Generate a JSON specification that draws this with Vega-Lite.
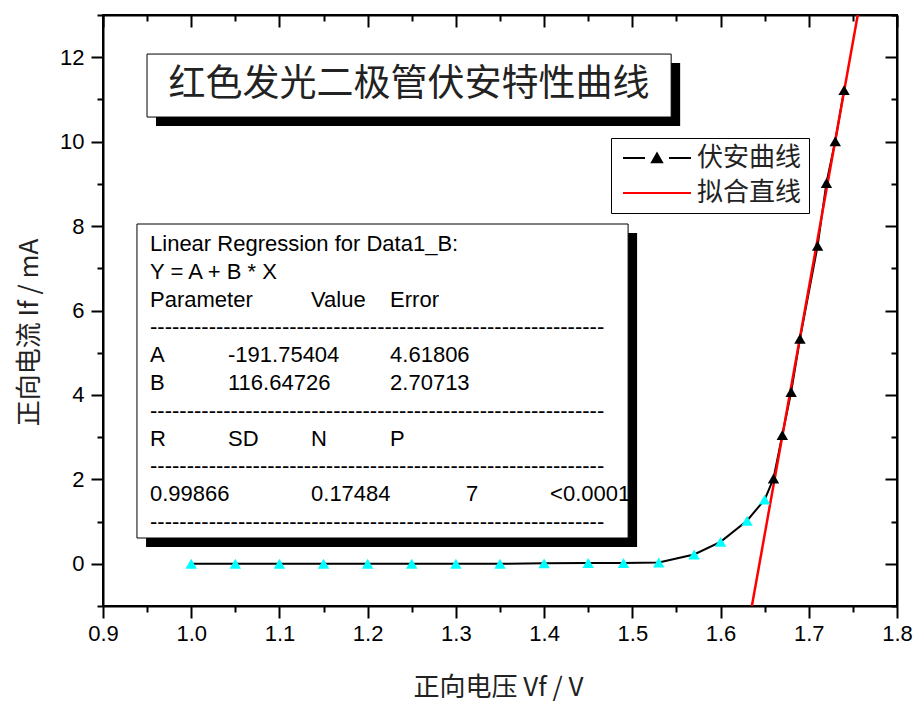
{
  "$schema": "https://vega.github.io/schema/vega-lite/v6.json",
  "width": 794,
  "height": 591,
  "autosize": "none",
  "padding": {"left": 103, "top": 15, "right": 20, "bottom": 100},
  "background": "white",
  "config": {
    "view": {"stroke": "black", "strokeWidth": 2},
    "axis": {
      "grid": false,
      "domainColor": "black",
      "domainWidth": 2,
      "tickColor": "black",
      "tickWidth": 2,
      "labelColor": "black",
      "labelFont": "Liberation Sans",
      "labelFontSize": 22,
      "titleColor": "#222222",
      "titleFont": "Noto Sans CJK SC",
      "titleFontSize": 26,
      "titleFontWeight": "normal",
      "labelOverlap": false,
      "labelBound": false,
      "labelFlush": false
    },
    "text": {"font": "Liberation Sans", "fontSize": 22, "color": "black", "align": "left", "baseline": "alphabetic", "lineHeight": 27.8}
  },
  "datasets": {
    "curve": [
      {"V": 1.00, "I": 0.00, "series": "伏安曲线", "fitted": "no"},
      {"V": 1.05, "I": 0.00, "series": "伏安曲线", "fitted": "no"},
      {"V": 1.10, "I": 0.00, "series": "伏安曲线", "fitted": "no"},
      {"V": 1.15, "I": 0.00, "series": "伏安曲线", "fitted": "no"},
      {"V": 1.20, "I": 0.00, "series": "伏安曲线", "fitted": "no"},
      {"V": 1.25, "I": 0.00, "series": "伏安曲线", "fitted": "no"},
      {"V": 1.30, "I": 0.00, "series": "伏安曲线", "fitted": "no"},
      {"V": 1.35, "I": 0.00, "series": "伏安曲线", "fitted": "no"},
      {"V": 1.40, "I": 0.01, "series": "伏安曲线", "fitted": "no"},
      {"V": 1.45, "I": 0.02, "series": "伏安曲线", "fitted": "no"},
      {"V": 1.49, "I": 0.02, "series": "伏安曲线", "fitted": "no"},
      {"V": 1.53, "I": 0.03, "series": "伏安曲线", "fitted": "no"},
      {"V": 1.57, "I": 0.22, "series": "伏安曲线", "fitted": "no"},
      {"V": 1.60, "I": 0.52, "series": "伏安曲线", "fitted": "no"},
      {"V": 1.63, "I": 1.02, "series": "伏安曲线", "fitted": "no"},
      {"V": 1.65, "I": 1.52, "series": "伏安曲线", "fitted": "no"},
      {"V": 1.66, "I": 2.02, "series": "伏安曲线", "fitted": "yes"},
      {"V": 1.67, "I": 3.05, "series": "伏安曲线", "fitted": "yes"},
      {"V": 1.68, "I": 4.07, "series": "伏安曲线", "fitted": "yes"},
      {"V": 1.69, "I": 5.33, "series": "伏安曲线", "fitted": "yes"},
      {"V": 1.71, "I": 7.53, "series": "伏安曲线", "fitted": "yes"},
      {"V": 1.72, "I": 9.02, "series": "伏安曲线", "fitted": "yes"},
      {"V": 1.73, "I": 10.01, "series": "伏安曲线", "fitted": "yes"},
      {"V": 1.74, "I": 11.22, "series": "伏安曲线", "fitted": "yes"}
    ],
    "fit": [
      {"V": 1.6355, "I": -1, "series": "拟合直线"},
      {"V": 1.7555, "I": 13, "series": "拟合直线"}
    ]
  },
  "layer": [
    {
      "data": {"values": [{}]},
      "mark": {"type": "rect", "fill": "black"},
      "encoding": {
        "x": {"datum": 0.9601, "type": "quantitative", "axis": null},
        "x2": {"datum": 1.5542},
        "y": {"datum": 11.863, "type": "quantitative", "axis": null},
        "y2": {"datum": 10.371}
      }
    },
    {
      "data": {"values": [{}]},
      "mark": {"type": "rect", "fill": "white", "stroke": "black", "strokeWidth": 1},
      "encoding": {
        "x": {"datum": 0.9499, "type": "quantitative", "axis": null},
        "x2": {"datum": 1.544},
        "y": {"datum": 12.075, "type": "quantitative", "axis": null},
        "y2": {"datum": 10.583}
      }
    },
    {
      "data": {"values": [{}]},
      "mark": {"type": "text", "text": "红色发光二极管伏安特性曲线", "font": "Noto Sans CJK SC", "fontSize": 37, "color": "#222222", "align": "center", "baseline": "middle"},
      "encoding": {
        "x": {"datum": 1.2469, "type": "quantitative", "axis": null},
        "y": {"datum": 11.342, "type": "quantitative", "axis": null}
      }
    },
    {
      "data": {"values": [{}]},
      "mark": {"type": "rect", "fill": "black"},
      "encoding": {
        "x": {"datum": 0.9488, "type": "quantitative", "axis": null},
        "x2": {"datum": 1.5054},
        "y": {"datum": 7.836, "type": "quantitative", "axis": null},
        "y2": {"datum": 0.3977}
      }
    },
    {
      "data": {"values": [{}]},
      "mark": {"type": "rect", "fill": "white", "stroke": "black", "strokeWidth": 1},
      "encoding": {
        "x": {"datum": 0.9385, "type": "quantitative", "axis": null},
        "x2": {"datum": 1.4952},
        "y": {"datum": 8.049, "type": "quantitative", "axis": null},
        "y2": {"datum": 0.6108}
      }
    },
    {
      "data": {"values": [{}]},
      "mark": {"type": "text",
        "text": ["Linear Regression for Data1_B:", "Y = A + B * X", "Parameter", "--------------------------------------------------------------", "A", "B", "--------------------------------------------------------------", "R", "--------------------------------------------------------------", "0.99866", "--------------------------------------------------------------"]},
      "encoding": {
        "x": {"datum": 0.9533, "type": "quantitative", "axis": null},
        "y": {"datum": 7.4095, "type": "quantitative", "axis": null}
      }
    },
    {
      "data": {"values": [{}]},
      "mark": {"type": "text", "text": ["-191.75404", "116.64726"]},
      "encoding": {
        "x": {"datum": 1.0417, "type": "quantitative", "axis": null},
        "y": {"datum": 4.7752, "type": "quantitative", "axis": null}
      }
    },
    {
      "data": {"values": [{}]},
      "mark": {"type": "text", "text": "SD"},
      "encoding": {
        "x": {"datum": 1.0417, "type": "quantitative", "axis": null},
        "y": {"datum": 2.7996, "type": "quantitative", "axis": null}
      }
    },
    {
      "data": {"values": [{}]},
      "mark": {"type": "text", "text": "Value"},
      "encoding": {
        "x": {"datum": 1.1358, "type": "quantitative", "axis": null},
        "y": {"datum": 6.0923, "type": "quantitative", "axis": null}
      }
    },
    {
      "data": {"values": [{}]},
      "mark": {"type": "text", "text": "N"},
      "encoding": {
        "x": {"datum": 1.1358, "type": "quantitative", "axis": null},
        "y": {"datum": 2.7996, "type": "quantitative", "axis": null}
      }
    },
    {
      "data": {"values": [{}]},
      "mark": {"type": "text", "text": "0.17484"},
      "encoding": {
        "x": {"datum": 1.1358, "type": "quantitative", "axis": null},
        "y": {"datum": 1.4825, "type": "quantitative", "axis": null}
      }
    },
    {
      "data": {"values": [{}]},
      "mark": {"type": "text", "text": "Error"},
      "encoding": {
        "x": {"datum": 1.2254, "type": "quantitative", "axis": null},
        "y": {"datum": 6.0923, "type": "quantitative", "axis": null}
      }
    },
    {
      "data": {"values": [{}]},
      "mark": {"type": "text", "text": ["4.61806", "2.70713"]},
      "encoding": {
        "x": {"datum": 1.2254, "type": "quantitative", "axis": null},
        "y": {"datum": 4.7752, "type": "quantitative", "axis": null}
      }
    },
    {
      "data": {"values": [{}]},
      "mark": {"type": "text", "text": "P"},
      "encoding": {
        "x": {"datum": 1.2254, "type": "quantitative", "axis": null},
        "y": {"datum": 2.7996, "type": "quantitative", "axis": null}
      }
    },
    {
      "data": {"values": [{}]},
      "mark": {"type": "text", "text": "7"},
      "encoding": {
        "x": {"datum": 1.3116, "type": "quantitative", "axis": null},
        "y": {"datum": 1.4825, "type": "quantitative", "axis": null}
      }
    },
    {
      "data": {"values": [{}]},
      "mark": {"type": "text", "text": "<0.0001"},
      "encoding": {
        "x": {"datum": 1.4068, "type": "quantitative", "axis": null},
        "y": {"datum": 1.4825, "type": "quantitative", "axis": null}
      }
    },
    {
      "data": {"name": "curve"},
      "mark": {"type": "line", "strokeWidth": 2},
      "encoding": {
        "x": {
          "field": "V", "type": "quantitative",
          "scale": {"domain": [0.9, 1.8], "nice": false, "zero": false},
          "axis": {
            "orient": "bottom",
            "values": [0.9, 0.95, 1.0, 1.05, 1.1, 1.15, 1.2, 1.25, 1.3, 1.35, 1.4, 1.45, 1.5, 1.55, 1.6, 1.65, 1.7, 1.75, 1.8],
            "labelExpr": "abs(datum.value*10 - round(datum.value*10)) < 0.01 ? format(datum.value, '.1f') : ''",
            "tickSize": 12,
            "tickDash": {"condition": {"test": "abs(datum.value*10 - round(datum.value*10)) < 0.01", "value": [12, 0]}, "value": [6, 6]},
            "labelPadding": 5,
            "title": "正向电压 Vf / V",
            "titleX": 395,
            "titleY": 89,
            "titleBaseline": "alphabetic"
          }
        },
        "y": {
          "field": "I", "type": "quantitative",
          "scale": {"domain": [-1, 13], "nice": false, "zero": false},
          "axis": {
            "orient": "left",
            "values": [-1, 0, 1, 2, 3, 4, 5, 6, 7, 8, 9, 10, 11, 12, 13],
            "labelExpr": "datum.value % 2 === 0 ? format(datum.value, 'd') : ''",
            "tickSize": 12,
            "tickDash": {"condition": {"test": "datum.value % 2 === 0", "value": [12, 0]}, "value": [6, 6]},
            "labelPadding": 7,
            "title": "正向电流 If / mA",
            "titleAngle": -90,
            "titleX": -74,
            "titleY": 317,
            "titleAlign": "center",
            "titleBaseline": "middle"
          }
        },
        "stroke": {
          "field": "series", "type": "nominal",
          "scale": {"domain": ["伏安曲线", "拟合直线"], "range": ["black", "red"]},
          "legend": {
            "title": null,
            "orient": "none",
            "legendX": 508,
            "legendY": 123,
            "strokeColor": "black",
            "fillColor": "white",
            "padding": 7,
            "labelFont": "Noto Sans CJK SC",
            "labelFontSize": 26,
            "labelColor": "#222222",
            "symbolSize": 400,
            "symbolOffset": 26,
            "labelOffset": 27,
            "rowPadding": 9,
            "symbolStrokeWidth": 2,
            "symbolType": "M-3.4,0H3.4",
            "encode": {
              "symbols": {
                "update": {
                  "shape": {"signal": "datum.value === '伏安曲线' ? 'M-3.4,0H-1.2M1.2,0H3.4M-0.5,0.42L0,-0.45L0.5,0.42Z' : 'M-3.4,0H3.4'"},
                  "fill": {"signal": "datum.value === '伏安曲线' ? 'black' : 'transparent'"}
                }
              }
            }
          }
        }
      }
    },
    {
      "data": {"name": "fit"},
      "mark": {"type": "line", "strokeWidth": 2.5, "clip": true},
      "encoding": {
        "x": {
          "field": "V", "type": "quantitative",
          "scale": {"domain": [0.9, 1.8], "nice": false, "zero": false},
          "axis": {
            "orient": "top",
            "values": [0.9, 0.95, 1.0, 1.05, 1.1, 1.15, 1.2, 1.25, 1.3, 1.35, 1.4, 1.45, 1.5, 1.55, 1.6, 1.65, 1.7, 1.75, 1.8],
            "labels": false,
            "title": null,
            "tickSize": -12,
            "tickDash": {"condition": {"test": "abs(datum.value*10 - round(datum.value*10)) < 0.01", "value": [12, 0]}, "value": [6, 6]}
          }
        },
        "y": {
          "field": "I", "type": "quantitative",
          "scale": {"domain": [-1, 13], "nice": false, "zero": false},
          "axis": {
            "orient": "right",
            "values": [-1, 0, 1, 2, 3, 4, 5, 6, 7, 8, 9, 10, 11, 12, 13],
            "labels": false,
            "title": null,
            "tickSize": -12,
            "tickDash": {"condition": {"test": "datum.value % 2 === 0", "value": [12, 0]}, "value": [6, 6]}
          }
        },
        "stroke": {"field": "series", "type": "nominal"}
      }
    },
    {
      "data": {"name": "curve"},
      "mark": {"type": "point", "shape": "triangle-up", "filled": true, "size": 130, "opacity": 1},
      "encoding": {
        "x": {"field": "V", "type": "quantitative", "axis": null},
        "y": {"field": "I", "type": "quantitative", "axis": null},
        "fill": {
          "field": "fitted", "type": "nominal",
          "scale": {"domain": ["no", "yes"], "range": ["#00FFFF", "black"]},
          "legend": null
        }
      }
    }
  ],
  "resolve": {"axis": {"x": "independent", "y": "independent"}}
}
